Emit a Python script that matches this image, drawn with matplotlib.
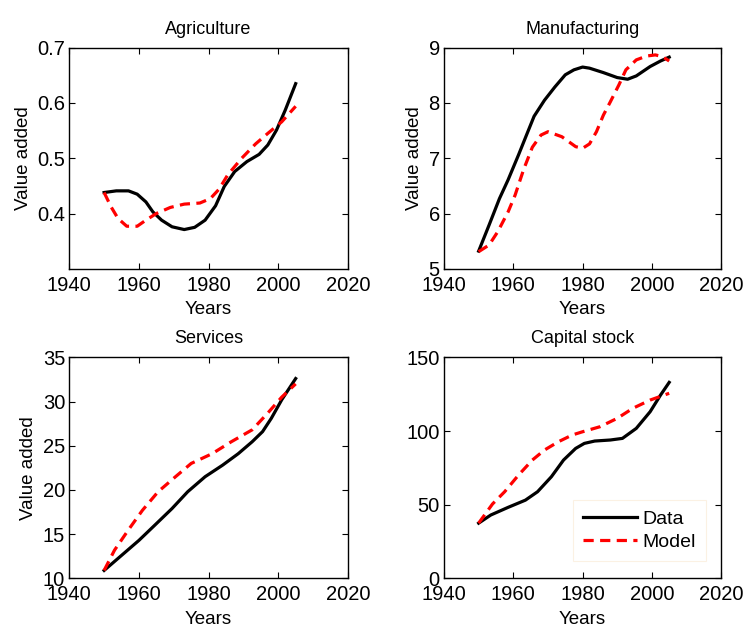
import numpy as np
import matplotlib.pyplot as plt

plt.rcParams["font.family"] = ["Liberation Sans", "DejaVu Sans"]

# Agriculture
agr_data_years = [1950, 1953.5, 1957, 1959.5, 1962, 1964, 1966.5, 1969.5, 1973, 1976, 1979, 1982, 1984.5, 1987.5, 1991, 1994.5, 1997, 1999.5, 2002, 2005]
agr_data = [0.438, 0.441, 0.441, 0.435, 0.421, 0.403, 0.388, 0.376, 0.371, 0.375, 0.388, 0.414, 0.449, 0.476, 0.494, 0.507, 0.524, 0.551, 0.587, 0.635]
agr_model_years = [1950, 1952, 1954, 1956.5, 1959.5, 1962, 1965, 1969, 1973, 1977.5, 1980.5, 1983, 1985.5, 1989.5, 1993.5, 1997, 2001, 2005]
agr_model = [0.438, 0.412, 0.391, 0.377, 0.377, 0.388, 0.400, 0.411, 0.417, 0.419, 0.427, 0.444, 0.470, 0.500, 0.526, 0.545, 0.566, 0.594]

# Manufacturing
man_data_years = [1950, 1953, 1956, 1958.5, 1961.5, 1964, 1966, 1969, 1972, 1975, 1977.5, 1980, 1982, 1986, 1990, 1993, 1995.5, 1999.5, 2002.5, 2005]
man_data = [5.32, 5.79, 6.27, 6.61, 7.06, 7.45, 7.76, 8.05, 8.29, 8.51, 8.60, 8.65, 8.63, 8.55, 8.46, 8.43, 8.49, 8.66, 8.76, 8.83]
man_model_years = [1950, 1953, 1955.5, 1958.5, 1960.5, 1963, 1965.5, 1968, 1970, 1974, 1978, 1980, 1982, 1984, 1986, 1988, 1990.5, 1992.5, 1995.5, 1998.5, 2001, 2003, 2005]
man_model = [5.31, 5.43, 5.67, 6.03, 6.33, 6.80, 7.20, 7.42, 7.48, 7.39, 7.21, 7.18, 7.26, 7.48, 7.78, 8.02, 8.33, 8.60, 8.78, 8.85, 8.87, 8.84, 8.76]

# Services
ser_data_years = [1950, 1955, 1960, 1964.5, 1969.5, 1974, 1979, 1984, 1988.5, 1992.5, 1995.5, 1998, 2001, 2005]
ser_data = [10.9, 12.6, 14.3, 16.0, 17.9, 19.8, 21.5, 22.8, 24.1, 25.45, 26.6, 28.1, 30.2, 32.6]
ser_model_years = [1950, 1953, 1957, 1961, 1965.5, 1970.5, 1975, 1981, 1986.5, 1992.5, 1997, 2001, 2005]
ser_model = [10.9, 13.2, 15.5, 17.7, 19.8, 21.5, 23.0, 24.1, 25.45, 26.8, 28.7, 30.5, 32.0]

# Capital stock
cap_data_years = [1950, 1953.5, 1958.5, 1963.5, 1967, 1971, 1974.5, 1978, 1980.5, 1983.5, 1988, 1991.5, 1995.5, 1999.5, 2002.5, 2005]
cap_data = [37.5, 43, 48.2, 53.1, 58.8, 69.0, 80.3, 88.2, 91.6, 93.2, 93.9, 95.0, 101.8, 113.1, 124.4, 133]
cap_model_years = [1950, 1952, 1954, 1957.5, 1961.5, 1965.5, 1969, 1973, 1977, 1980, 1985, 1990, 1994.5, 1999.5, 2005]
cap_model = [37.5, 44, 50.5, 58.8, 70.1, 80.3, 87.1, 92.7, 97.3, 99.5, 102.9, 108.6, 115.4, 121, 125.6]

panels = [
    ("Agriculture", agr_data_years, agr_data, agr_model_years, agr_model, (0.3, 0.7), [0.4, 0.5, 0.6, 0.7], True),
    ("Manufacturing", man_data_years, man_data, man_model_years, man_model, (5, 9), [5, 6, 7, 8, 9], True),
    ("Services", ser_data_years, ser_data, ser_model_years, ser_model, (10, 35), [10, 15, 20, 25, 30, 35], True),
    ("Capital stock", cap_data_years, cap_data, cap_model_years, cap_model, (0, 150), [0, 50, 100, 150], False),
]

positions = [
    [0.093, 0.572, 0.374, 0.352],
    [0.596, 0.572, 0.372, 0.352],
    [0.093, 0.079, 0.374, 0.352],
    [0.596, 0.079, 0.372, 0.352],
]

fig = plt.figure(figsize=(7.45, 6.28), dpi=100)

for pos, (title, dy, d, my, m, ylim, yticks, has_ylabel) in zip(positions, panels):
    ax = fig.add_axes(pos)
    ax.plot(dy, d, color="black", lw=2.3, label="Data", solid_joinstyle="round")
    ax.plot(my, m, color="red", lw=2.3, linestyle=(0, (3.2, 2.0)), label="Model")
    ax.set_xlim(1940, 2020)
    ax.set_xticks([1940, 1960, 1980, 2000, 2020])
    ax.set_ylim(*ylim)
    ax.set_yticks(yticks)
    ax.tick_params(direction="in", top=True, right=True, labelsize=14.5, length=4, width=0.8)
    ax.tick_params(axis="x", pad=5)
    ax.tick_params(axis="y", pad=3)
    ax.set_title(title, fontsize=13, pad=10)
    ax.set_xlabel("Years", fontsize=13.5, labelpad=4.5)
    if has_ylabel:
        ax.set_ylabel("Value added", fontsize=13.5, labelpad=4)
    for sp in ax.spines.values():
        sp.set_linewidth(1.0)
    if title == "Capital stock":
        leg = ax.legend(loc="lower right", fontsize=14, handlelength=2.8, fancybox=False,
                        borderpad=0.5, labelspacing=0.3, handletextpad=0.3,
                        bbox_to_anchor=(0.98, 0.035))
        leg.get_frame().set_edgecolor("#fbeedd")
        leg.get_frame().set_linewidth(0.8)

plt.savefig("out.png", dpi=100)
